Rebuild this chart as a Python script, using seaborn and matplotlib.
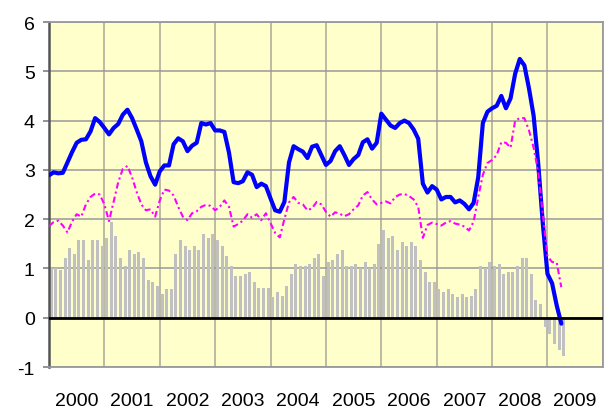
import numpy as np
import pandas as pd
import matplotlib
matplotlib.use('Agg')
from matplotlib import pyplot as plt
import seaborn as sns

# Monatswerte Jan 2000 - Apr 2009
years = [str(y) for y in range(2000, 2010)]

bars = [1.01, 1.01, 0.96, 1.22, 1.42, 1.30, 1.58, 1.58, 1.18, 1.58, 1.58, 1.46,
        1.62, 1.95, 1.66, 1.22, 1.05, 1.38, 1.30, 1.34, 1.22, 0.77, 0.73, 0.65,
        0.49, 0.59, 0.59, 1.30, 1.58, 1.46, 1.38, 1.46, 1.38, 1.70, 1.62, 1.70,
        1.58, 1.46, 1.26, 1.05, 0.85, 0.85, 0.89, 0.93, 0.73, 0.61, 0.61, 0.61,
        0.42, 0.53, 0.45, 0.65, 0.89, 1.09, 1.05, 1.05, 1.09, 1.22, 1.30, 0.85,
        1.14, 1.18, 1.30, 1.38, 1.05, 1.05, 1.09, 1.01, 1.14, 1.01, 1.09, 1.50,
        1.78, 1.62, 1.66, 1.38, 1.54, 1.46, 1.54, 1.46, 1.18, 0.93, 0.73, 0.73,
        0.58, 0.53, 0.58, 0.49, 0.42, 0.49, 0.42, 0.45, 0.58, 1.05, 1.01, 1.14,
        1.05, 1.09, 0.89, 0.93, 0.93, 1.05, 1.22, 1.22, 0.89, 0.36, 0.27, -0.18,
        -0.34, -0.53, -0.66, -0.78]

blue = [2.89, 2.95, 2.93, 2.94, 3.15, 3.36, 3.55, 3.61, 3.62, 3.78, 4.05, 3.97,
        3.85, 3.72, 3.85, 3.93, 4.12, 4.22, 4.05, 3.82, 3.58, 3.15, 2.87, 2.70,
        2.97, 3.09, 3.09, 3.52, 3.64, 3.58, 3.38, 3.49, 3.55, 3.95, 3.92, 3.95,
        3.80, 3.80, 3.77, 3.35, 2.75, 2.73, 2.77, 2.95, 2.90, 2.65, 2.72, 2.67,
        2.42, 2.18, 2.15, 2.35, 3.15, 3.48, 3.42, 3.37, 3.24, 3.47, 3.50, 3.30,
        3.10, 3.18, 3.38, 3.48, 3.30, 3.10, 3.22, 3.30, 3.56, 3.62, 3.43, 3.55,
        4.14, 4.02, 3.90, 3.85, 3.95, 4.00, 3.95, 3.82, 3.63, 2.72, 2.54, 2.67,
        2.60, 2.40, 2.45, 2.45, 2.34, 2.38, 2.31, 2.20, 2.33, 2.85, 3.95, 4.18,
        4.25, 4.30, 4.50, 4.25, 4.45, 4.95, 5.25, 5.12, 4.65, 4.10, 3.12, 1.90,
        0.89, 0.70, 0.25, -0.12]

pink = [1.86, 1.94, 1.97, 1.87, 1.73, 1.95, 2.10, 2.05, 2.30, 2.45, 2.52, 2.50,
        2.30, 1.96, 2.35, 2.75, 3.02, 3.08, 2.85, 2.55, 2.30, 2.18, 2.20, 2.05,
        2.38, 2.60, 2.58, 2.48, 2.25, 2.05, 1.98, 2.12, 2.16, 2.25, 2.29, 2.27,
        2.18, 2.25, 2.38, 2.25, 1.85, 1.90, 1.97, 2.10, 2.03, 2.10, 1.98, 2.12,
        1.92, 1.72, 1.63, 2.00, 2.34, 2.45, 2.33, 2.30, 2.18, 2.22, 2.35, 2.30,
        2.15, 2.05, 2.14, 2.11, 2.06, 2.10, 2.20, 2.28, 2.48, 2.55, 2.40, 2.30,
        2.33, 2.36, 2.32, 2.45, 2.50, 2.51, 2.47, 2.40, 2.25, 1.62, 1.88, 1.93,
        1.90, 1.87, 1.93, 1.96, 1.91, 1.89, 1.85, 1.77, 1.95, 2.45, 2.90, 3.14,
        3.20, 3.30, 3.56, 3.55, 3.45, 4.00, 4.05, 4.05, 3.80, 3.45, 2.95, 2.10,
        1.25, 1.13, 1.12, 0.62]

df = pd.DataFrame({'m': np.arange(len(bars)), 'bar': bars, 'blue': blue, 'pink': pink})
df['bar_x'] = df['m'] + 0.5

plt.rcParams['font.family'] = ['Liberation Sans', 'DejaVu Sans']
plt.rcParams['axes.unicode_minus'] = False
fig = plt.figure(figsize=(6.04, 4.10), dpi=100)
ax = fig.add_axes([0.0811, 0.1024, 0.917, 0.8415])
ax.set_facecolor('#FFFFCC')
ax.set_axisbelow(True)

sns.barplot(data=df, x='bar_x', y='bar', native_scale=True, color='#C0C0C0',
            saturation=1, width=0.65, errorbar=None, linewidth=0, ax=ax, zorder=2)
sns.lineplot(data=df, x='m', y='blue', color='#0000FF', linewidth=3,
             solid_joinstyle='round', solid_capstyle='round', ax=ax, zorder=3)
sns.lineplot(data=df, x='m', y='pink', color='#FF00FF', linewidth=1.5,
             linestyle=(0, (3, 1.5, 1, 1.5)), ax=ax, zorder=4)
ax.axhline(0, color='black', lw=2, zorder=5)

ax.set_xlim(0, 120)
ax.set_ylim(-1, 6)
ax.set_xlabel('')
ax.set_ylabel('')

ax.set_xticks(np.arange(0, 121, 12))
ax.set_xticklabels([])
ax.set_xticks(np.arange(6, 120, 12), minor=True)
ax.set_xticklabels(years, minor=True)
ax.tick_params(axis='x', which='both', length=0, labelsize=14, pad=18)
ax.set_yticks(range(-1, 7))
ax.tick_params(axis='y', length=4.3, width=1.2, color='#808080', labelsize=14, pad=6)

ax.grid(axis='x', which='major', color='#B8B4A0', lw=1.3)
ax.grid(axis='y', color='#999999', lw=1.1)

for s in ['top', 'right', 'bottom']:
    ax.spines[s].set_color('#999999')
    ax.spines[s].set_linewidth(1.3)
ax.spines['left'].set_color('#555555')
ax.spines['left'].set_linewidth(1.8)

fig.savefig('out.png', dpi=100)
